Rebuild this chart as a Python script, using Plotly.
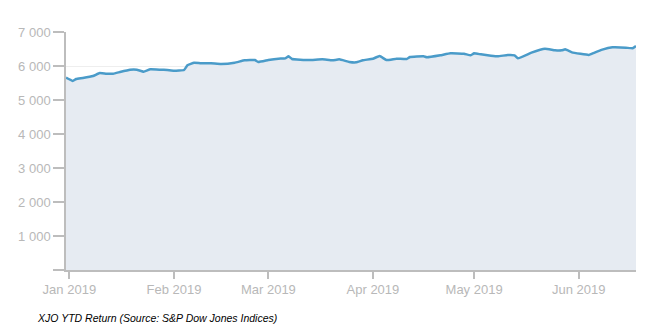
import plotly.graph_objects as go

dates = [
    "2018-12-31", "2019-01-02", "2019-01-03", "2019-01-05", "2019-01-08", "2019-01-10",
    "2019-01-12", "2019-01-14", "2019-01-16", "2019-01-19", "2019-01-21", "2019-01-23",
    "2019-01-25", "2019-01-28", "2019-01-30", "2019-02-01", "2019-02-04", "2019-02-05",
    "2019-02-07", "2019-02-09", "2019-02-12", "2019-02-15", "2019-02-19", "2019-02-22",
    "2019-02-25", "2019-02-26", "2019-03-01", "2019-03-04", "2019-03-06", "2019-03-07",
    "2019-03-08", "2019-03-13", "2019-03-17", "2019-03-20", "2019-03-22", "2019-03-25",
    "2019-03-27", "2019-03-29", "2019-04-01", "2019-04-03", "2019-04-05", "2019-04-08",
    "2019-04-11", "2019-04-12", "2019-04-16", "2019-04-17", "2019-04-21", "2019-04-24",
    "2019-04-28", "2019-04-30", "2019-05-01", "2019-05-03", "2019-05-06", "2019-05-08",
    "2019-05-11", "2019-05-13", "2019-05-14", "2019-05-18", "2019-05-22", "2019-05-25",
    "2019-05-27", "2019-05-28", "2019-05-30", "2019-06-04", "2019-06-05", "2019-06-08",
    "2019-06-11", "2019-06-15", "2019-06-17", "2019-06-18",
]
values = [
    5656, 5559, 5618, 5647, 5706, 5794,
    5774, 5774, 5824, 5891, 5891, 5833,
    5902, 5891, 5882, 5862, 5882, 6020,
    6097, 6079, 6079, 6059, 6097, 6167,
    6176, 6118, 6176, 6215, 6225, 6284,
    6206, 6176, 6196, 6167, 6196, 6120,
    6108, 6167, 6215, 6294, 6176, 6215,
    6206, 6265, 6284, 6255, 6314, 6372,
    6363, 6314, 6372, 6343, 6304, 6284,
    6324, 6314, 6225, 6392, 6510, 6461,
    6461, 6490, 6402, 6324, 6363, 6480,
    6549, 6539, 6520, 6588,
]
month_ticks = ["2019-01-01", "2019-02-01", "2019-03-01", "2019-04-01", "2019-05-01", "2019-06-01"]
month_labels = ["Jan 2019", "Feb 2019", "Mar 2019", "Apr 2019", "May 2019", "Jun 2019"]
y_ticks = [0, 1000, 2000, 3000, 4000, 5000, 6000, 7000]
y_labels = ["", "1 000", "2 000", "3 000", "4 000", "5 000", "6 000", "7 000"]
caption = "XJO YTD Return (Source: S&P Dow Jones Indices)"

fig = go.Figure()
fig.add_trace(go.Scatter(
    x=dates, y=values, mode="lines", fill="tozeroy",
    fillcolor="rgb(230,235,242)",
    line=dict(color="#4a9bc9", width=2.5, shape="spline", smoothing=0.3),
    hoverinfo="skip",
))

tick_font = dict(family="Liberation Sans, Arial, sans-serif", size=13, color="#b8b8b8")
fig.update_layout(
    width=656, height=330,
    margin=dict(l=66, r=20, t=32, b=60),
    paper_bgcolor="white", plot_bgcolor="white",
    showlegend=False,
    xaxis=dict(
        range=[dates[0], dates[-1]],
        tickvals=month_ticks, ticktext=month_labels,
        ticks="outside", ticklen=7, tickcolor="#bdbdbd", tickwidth=1.5,
        showline=True, linecolor="#bdbdbd", linewidth=1.5,
        showgrid=False, zeroline=False, tickfont=tick_font,
    ),
    yaxis=dict(
        range=[0, 7000],
        tickvals=y_ticks, ticktext=y_labels,
        ticks="outside", ticklen=11, tickcolor="#bdbdbd", tickwidth=1.5,
        showline=True, linecolor="#bdbdbd", linewidth=1.5,
        showgrid=True, gridcolor="#eeeeee", gridwidth=1,
        zeroline=False, tickfont=tick_font,
    ),
    annotations=[dict(
        text="<i>" + caption + "</i>", xref="paper", yref="paper",
        x=-0.054, y=-0.2, xanchor="left", yanchor="middle", showarrow=False,
        font=dict(family="Liberation Sans, Arial, sans-serif", size=10.5, color="black"),
    )],
)

fig.write_html("out.html")
